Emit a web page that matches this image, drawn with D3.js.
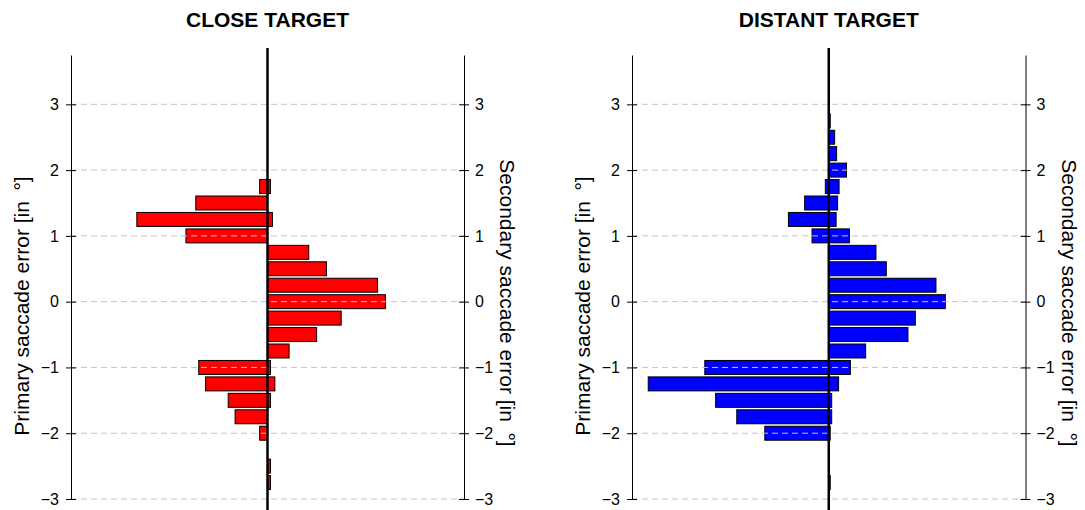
<!DOCTYPE html>
<html lang="en">
  <head>
    <meta charset="UTF-8" />
    <title>Saccade error histograms</title>
    <script src="https://cdn.jsdelivr.net/npm/d3@7"></script>
    <style>
      body { margin: 0; background: #fff; }
      svg { font-family: "Liberation Sans", Arial, Helvetica, sans-serif; }
    </style>
  </head>
  <body>
    <svg id="chart" width="1085" height="510"></svg>

  <script>
    // bin centres (deg), top to bottom
    const bins = [2.75, 2.5, 2.25, 2, 1.75, 1.5, 1.25, 1, 0.75, 0.5, 0.25, 0,
      -0.25, -0.5, -0.75, -1, -1.25, -1.5, -1.75, -2, -2.25, -2.5, -2.75];

    // relative frequency (%) per bin
    const closePrimary = [0, 0, 0, 0, 0.8, 7.3, 13.3, 8.3, 0, 0, 0, 0,
      0, 0, 0, 7.0, 6.3, 4.0, 3.3, 0.8, 0, 0, 0];
    const closeSecondary = [0, 0, 0, 0, 0.3, 0, 0.5, 0, 4.2, 6.0, 11.2, 12.0,
      7.5, 5.0, 2.2, 0.3, 0.75, 0.3, 0, 0, 0, 0.3, 0.3];
    const distantPrimary = [0, 0, 0, 0, 0.35, 2.45, 4.1, 1.7, 0, 0, 0, 0,
      0, 0, 0, 12.6, 18.35, 11.5, 9.35, 6.5, 0, 0, 0];
    const distantSecondary = [0.15, 0.6, 0.8, 1.8, 1.05, 0.9, 0.75, 2.1, 4.8, 5.85, 10.9, 11.85,
      8.8, 8.05, 3.75, 2.2, 1.0, 0.3, 0.3, 0.15, 0, 0, 0.15];

    const yTicks = [-3, -2, -1, 0, 1, 2, 3];
    const titles = ["CLOSE TARGET", "DISTANT TARGET"];
    const colors = ["#ff0000", "#0000ff"];

    let svg = d3.select("#chart");

    let y = d3.scaleLinear().domain([-3, 3.75]).range([499, 55]);
    let binH = (y(0) - y(0.25)) * 0.85;

    function drawPanel(left, right, title, color, primary, secondary) {
      let x = d3.scaleLinear().domain([-20, 20]).range([left, right]);
      let g = svg.append("g");
      let cx = x(0);

      // primary error goes to the left
      g.selectAll("rect.prim")
        .data(bins.map((b, i) => ({ b: b, v: primary[i] })).filter(d => d.v > 0))
        .enter()
        .append("rect")
        .attr("class", "prim")
        .attr("x", d => x(-d.v))
        .attr("width", d => cx - x(-d.v))
        .attr("y", d => y(d.b) - binH / 2)
        .attr("height", binH)
        .attr("fill", color)
        .attr("stroke", "#000")
        .attr("stroke-width", 1);

      // secondary error goes to the right
      g.selectAll("rect.sec")
        .data(bins.map((b, i) => ({ b: b, v: secondary[i] })).filter(d => d.v > 0))
        .enter()
        .append("rect")
        .attr("class", "sec")
        .attr("x", cx)
        .attr("width", d => x(d.v) - cx)
        .attr("y", d => y(d.b) - binH / 2)
        .attr("height", binH)
        .attr("fill", color)
        .attr("stroke", "#000")
        .attr("stroke-width", 1);

      // dashed grid on top of the bars
      g.selectAll("line.grid")
        .data(yTicks)
        .enter()
        .append("line")
        .attr("x1", left)
        .attr("x2", right)
        .attr("y1", d => y(d))
        .attr("y2", d => y(d))
        .attr("stroke", "#c4c4c4")
        .attr("stroke-dasharray", "6,4");

      let fmt = d3.format("d");
      let axL = g.append("g")
        .attr("transform", `translate(${left},0)`)
        .call(d3.axisLeft(y).tickValues(yTicks).tickFormat(fmt)
          .tickSizeInner(5).tickSizeOuter(0).tickPadding(7));
      let axR = g.append("g")
        .attr("transform", `translate(${right},0)`)
        .call(d3.axisRight(y).tickValues(yTicks).tickFormat(fmt)
          .tickSizeInner(5).tickSizeOuter(0).tickPadding(6));
      [axL, axR].forEach(ax => {
        ax.selectAll(".tick line").attr("x1", -5).attr("x2", 5);
        ax.selectAll("text").attr("font-size", 16).attr("fill", "#000");
        ax.attr("font-family", null);
        ax.select(".domain").attr("stroke", "#000");
      });

      // zero line
      g.append("line")
        .attr("x1", cx)
        .attr("x2", cx)
        .attr("y1", 48)
        .attr("y2", 510)
        .attr("stroke", "#000")
        .attr("stroke-width", 2.5);

      g.append("text")
        .attr("x", cx)
        .attr("y", 27)
        .attr("text-anchor", "middle")
        .attr("font-size", 21)
        .attr("font-weight", "bold")
        .text(title);

      g.append("text")
        .attr("transform", `translate(${left - 42},306) rotate(-90)`)
        .attr("text-anchor", "middle")
        .attr("font-size", 21)
        .text("Primary saccade error [in\u2002°]");

      g.append("text")
        .attr("transform", `translate(${right + 36},303) rotate(90)`)
        .attr("text-anchor", "middle")
        .attr("font-size", 21)
        .text("Secondary saccade error [in\u2002°]");
    }

    drawPanel(71, 464, titles[0], colors[0], closePrimary, closeSecondary);
    drawPanel(632, 1025.5, titles[1], colors[1], distantPrimary, distantSecondary);
  </script>
  </body>
</html>
